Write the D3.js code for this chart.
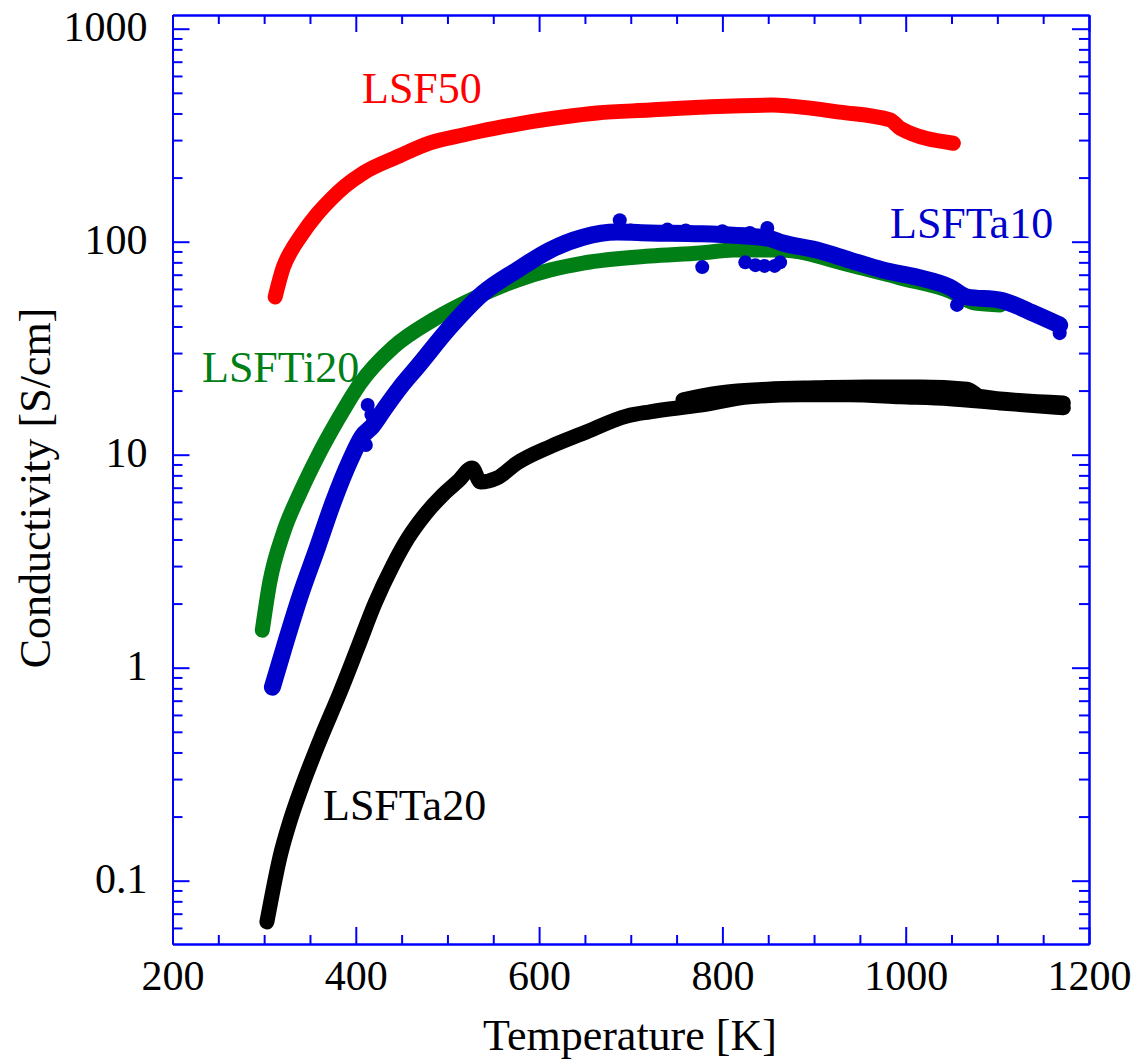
<!DOCTYPE html>
<html lang="en">
<head>
<meta charset="UTF-8" />
<title>Conductivity vs Temperature</title>
<script src="https://d3js.org/d3.v7.min.js"></script>
<style>
  body { margin: 0; background: #fff; }
  svg { display: block; }
  svg text { font-family: "Liberation Serif", "Times New Roman", "DejaVu Serif", serif !important; }
</style>
</head>
<body>
<svg id="chart" width="1143" height="1064"></svg>
<script>
// [temperature K, conductivity S/cm]
const lsf50 = [[312,55],[321,76],[330,91.4],[339,105],[358,135],[372,157],[388,182],[408,210],[445,250],
  [481,291],[517,317],[554,342],[590,365],[626,385],[663,402],[721,415],[783,429],[855,438],[874,433],
  [928,406],[983,373],[994,341],[1052,290]];

const lsfti20 = [[298,1.5],[306,2.5],[321,4.3],[339,6.6],[358,9.75],[380,14.5],[405,21.7],[441,32],
  [484,42.9],[532,55],[576,66],[612,73.6],[648,79.4],[721,85.7],[776,88.5],[812,91.4],[863,91.4],
  [939,77.8],[994,67.6],[1048,58.7],[1076,51.5],[1103,50.5]];

const lsfta10 = [[309,0.81],[321,1.21],[339,2.15],[358,3.65],[375,5.93],[394,9.44],[407,12.2],[418,13.6],
  [432,16.6],[448,20.6],[467,25.8],[503,39.8],[539,57.4],[576,73.6],[612,91.4],[648,105],[685,111],
  [721,110],[776,109],[849,104],[866,98.6],[903,91.4],[939,82],[975,73.6],[1012,68.2],[1048,61.2],
  [1067,55],[1103,53.2],[1139,46.2],[1168,40.6]];

// scattered points off the LSFTa10 trace
const lsfta10Stray = [[413,17.1],[417,15.4],[411,11.1],[688,126],[778,76],[849,116],[825,80],[836,77.6],
  [846,77],[857,77],[863,80],[1056,50.5],[1168,37.2],[700,113],[740,114],[760,113],[800,112],[830,110]];

const lsfta20 = [[303,0.064],[309,0.0875],[317,0.128],[328,0.189],[341,0.275],[361,0.458],[383,0.769],
  [402,1.24],[421,2.01],[440,3.0],[457,4.06],[476,5.27],[495,6.48],[512,7.54],[527,8.66],[536,7.44],
  [554,7.77],[576,9.14],[612,10.9],[648,12.6],[696,15.2],[721,15.9],[776,17.1],[830,18.7],[885,19.1],
  [939,19.1],[994,18.7],[1048,18.3],[1103,17.5],[1172,16.6]];

// second (upper) branch of LSFTa20 at high temperature
const lsfta20Upper = [[757,18.1],[797,19.5],[849,20.3],[903,20.6],[958,20.8],[1016,20.8],[1067,20.3],
  [1081,18.8],[1172,17.5]];

const xTicks = [200, 400, 600, 800, 1000, 1200];
const yTicks = [0.1, 1, 10, 100, 1000];
const yTickLabels = ["0.1", "1", "10", "100", "1000"];

const font = "Liberation Serif, Times New Roman, DejaVu Serif, serif";
const axisColor = "#0000ff";

const svg = d3.select("#chart");

const x = d3.scaleLinear().domain([200, 1200]).range([172.5, 1089]);
const y = d3.scaleLog().domain([0.05044, 1159.7]).range([944, 15]);

const xMinor = d3.range(250, 1200, 50).filter(v => v % 200 !== 0);
const yMinor = [0.01, 0.1, 1, 10, 100]
  .flatMap(d => d3.range(2, 10).map(k => +(d * k).toPrecision(3)))
  .filter(v => v > y.domain()[0] && v < y.domain()[1]);

function styleAxis(g) {
  g.attr("font-family", null).attr("font-size", 42);
  g.selectAll("path.domain").attr("stroke", axisColor).attr("stroke-width", 2);
  g.selectAll(".tick line").attr("stroke", axisColor).attr("stroke-width", 2);
  g.selectAll(".tick text").attr("fill", "#000");
}

const [x0, x1] = x.range();
const [y0, y1] = y.range();

// minor ticks
svg.append("g").attr("transform", `translate(0,${y0})`)
  .call(d3.axisBottom(x).tickValues(xMinor).tickSize(-9).tickSizeOuter(0).tickFormat(""))
  .call(styleAxis);
svg.append("g").attr("transform", `translate(0,${y1})`)
  .call(d3.axisTop(x).tickValues(xMinor).tickSize(-9).tickSizeOuter(0).tickFormat(""))
  .call(styleAxis);
svg.append("g").attr("transform", `translate(${x0},0)`)
  .call(d3.axisLeft(y).tickValues(yMinor).tickSize(-10).tickSizeOuter(0).tickFormat(""))
  .call(styleAxis);
svg.append("g").attr("transform", `translate(${x1},0)`)
  .call(d3.axisRight(y).tickValues(yMinor).tickSize(-10).tickSizeOuter(0).tickFormat(""))
  .call(styleAxis);

// major ticks + labels
svg.append("g").attr("transform", `translate(0,${y0})`)
  .call(d3.axisBottom(x).tickValues(xTicks).tickSize(-17).tickSizeOuter(0).tickFormat(d3.format("d")))
  .call(styleAxis)
  .call(g => g.selectAll(".tick text").attr("y", 46).attr("dy", null));
svg.append("g").attr("transform", `translate(0,${y1})`)
  .call(d3.axisTop(x).tickValues(xTicks).tickSize(-17).tickSizeOuter(0).tickFormat(""))
  .call(styleAxis);
svg.append("g").attr("transform", `translate(${x0},0)`)
  .call(d3.axisLeft(y).tickValues(yTicks).tickSize(-17).tickSizeOuter(0)
    .tickFormat((d, i) => yTickLabels[i]))
  .call(styleAxis)
  .call(g => g.selectAll(".tick text").attr("x", -25).attr("y", 12).attr("dy", null));
svg.append("g").attr("transform", `translate(${x1},0)`)
  .call(d3.axisRight(y).tickValues(yTicks).tickSize(-17).tickSizeOuter(0).tickFormat(""))
  .call(styleAxis);

// data traces (dense markers drawn as a thick line)
const line = d3.line()
  .x(d => x(d[0]))
  .y(d => y(d[1]))
  .curve(d3.curveMonotoneX);

const series = [
  { data: lsfti20, color: "#007f16", width: 15 },
  { data: lsfta10, color: "#0000cc", width: 17 },
  { data: lsf50, color: "#ff0000", width: 15 },
  { data: lsfta20, color: "#000000", width: 15 },
  { data: lsfta20Upper, color: "#000000", width: 15 }
];

svg.append("g").selectAll("path")
  .data(series)
  .join("path")
  .attr("d", d => line(d.data))
  .attr("fill", "none")
  .attr("stroke", d => d.color)
  .attr("stroke-width", d => d.width)
  .attr("stroke-linecap", "round")
  .attr("stroke-linejoin", "round");

svg.append("g").selectAll("circle")
  .data(lsfta10Stray)
  .join("circle")
  .attr("cx", d => x(d[0]))
  .attr("cy", d => y(d[1]))
  .attr("r", 7)
  .attr("fill", "#0000cc");

// series labels
const labels = [
  { text: "LSF50", x: 362, y: 103, color: "#ff0000" },
  { text: "LSFTa10", x: 890, y: 238, color: "#0000cc" },
  { text: "LSFTi20", x: 202, y: 382, color: "#007f16" },
  { text: "LSFTa20", x: 323, y: 820, color: "#000000" }
];
svg.append("g").selectAll("text")
  .data(labels)
  .join("text")
  .attr("x", d => d.x)
  .attr("y", d => d.y)
  .attr("fill", d => d.color)
  .style("font-family", font)
  .attr("font-size", 44)
  .text(d => d.text);

// axis titles
svg.append("text")
  .attr("x", 630).attr("y", 1050)
  .attr("text-anchor", "middle")
  .style("font-family", font).attr("font-size", 44)
  .text("Temperature [K]");

svg.append("text")
  .attr("transform", "translate(50,488) rotate(-90)")
  .attr("text-anchor", "middle")
  .style("font-family", font).attr("font-size", 44)
  .text("Conductivity [S/cm]");
</script>
</body>
</html>
